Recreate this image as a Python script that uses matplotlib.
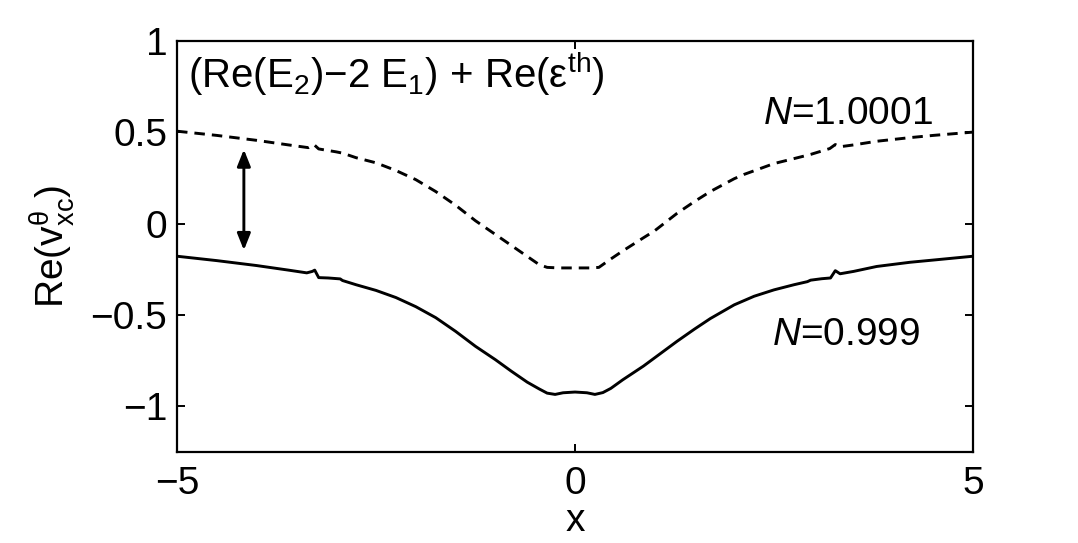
import matplotlib
matplotlib.use("Agg")
import matplotlib.pyplot as plt

plt.rcParams['font.family'] = ['Liberation Sans', 'DejaVu Sans']
plt.rcParams['mathtext.fontset'] = 'custom'
plt.rcParams['mathtext.rm'] = 'Liberation Sans'
plt.rcParams['mathtext.it'] = 'Liberation Sans:italic'
plt.rcParams['mathtext.bf'] = 'Liberation Sans:bold'

# Solid curve, N = 0.999
x_solid = [-5.0, -4.5, -4.0, -3.6, -3.37, -3.30, -3.27, -3.22, -3.1, -2.95, -2.92,
           -2.75, -2.5, -2.25, -2.0, -1.75, -1.5, -1.25, -1.0, -0.8, -0.6, -0.45,
           -0.35, -0.25, -0.15, 0.0, 0.15, 0.25, 0.35, 0.45, 0.6, 0.86, 1.0, 1.28,
           1.5, 1.7, 2.0, 2.25, 2.5, 2.75, 2.92, 2.96, 3.1, 3.21, 3.27, 3.33, 3.5,
           3.79, 4.21, 4.5, 5.0]
y_solid = [-0.179, -0.203, -0.230, -0.255, -0.270, -0.262, -0.255, -0.296, -0.298,
           -0.303, -0.312, -0.335, -0.366, -0.405, -0.455, -0.515, -0.590, -0.672,
           -0.745, -0.808, -0.868, -0.905, -0.928, -0.935, -0.926, -0.922, -0.926,
           -0.935, -0.925, -0.902, -0.855, -0.780, -0.735, -0.645, -0.578, -0.520,
           -0.445, -0.398, -0.363, -0.335, -0.318, -0.310, -0.302, -0.298, -0.258,
           -0.275, -0.262, -0.235, -0.212, -0.200, -0.179]

# Dashed curve, N = 1.0001
x_dash = [-5.0, -4.5, -4.0, -3.6, -3.35, -3.28, -3.22, -3.0, -2.92, -2.75, -2.5,
          -2.25, -2.0, -1.75, -1.5, -1.25, -1.0, -0.8, -0.6, -0.45, -0.35, -0.2,
          0.0, 0.2, 0.3, 0.44, 0.6, 0.86, 1.0, 1.28, 1.5, 1.7, 2.0, 2.12, 2.5,
          2.75, 2.96, 3.2, 3.27, 3.33, 3.5, 3.79, 4.21, 4.5, 5.0]
y_dash = [0.505, 0.482, 0.455, 0.430, 0.415, 0.432, 0.408, 0.392, 0.385, 0.360,
          0.332, 0.290, 0.240, 0.175, 0.100, 0.015, -0.060, -0.120, -0.180, -0.225,
          -0.240, -0.243, -0.243, -0.243, -0.240, -0.197, -0.150, -0.078, -0.040,
          0.055, 0.120, 0.175, 0.245, 0.268, 0.328, 0.355, 0.378, 0.410, 0.432,
          0.420, 0.430, 0.450, 0.470, 0.482, 0.500]

x_ticks = [-5, 0, 5]
y_ticks = [-1, -0.5, 0, 0.5, 1]
y_ticklabels = ['\u22121', '\u22120.5', '0', '0.5', '1']
x_ticklabels = ['\u22125', '0', '5']

fig = plt.figure(figsize=(10.78, 5.43), dpi=100)
ax = fig.add_axes([0.1642, 0.1676, 0.7384, 0.7574])

ax.plot(x_solid, y_solid, color='black', lw=2.1)
ax.plot(x_dash, y_dash, color='black', lw=2.1, dashes=(3.6, 2.4))

ax.annotate('', xy=(-4.16, -0.146), xytext=(-4.16, 0.405),
            arrowprops=dict(arrowstyle='<|-|>,head_length=1.0,head_width=0.4',
                            color='black', lw=2.1, shrinkA=0, shrinkB=0))

ax.text(-4.86, 0.744, r'(Re(E$_{2}$)$-$2 E$_{1}$) + Re(ε$^{\mathrm{th}}$)',
        fontsize=29, ha='left', va='baseline')
ax.text(2.36, 0.542, r'$N$=1.0001', fontsize=28, ha='left', va='baseline')
ax.text(2.47, -0.662, r'$N$=0.999', fontsize=28, ha='left', va='baseline')

ax.set_xlim(-5, 5)
ax.set_ylim(-1.25, 1)
ax.set_xticks(x_ticks)
ax.set_xticklabels(x_ticklabels)
ax.set_yticks(y_ticks)
ax.set_yticklabels(y_ticklabels)
ax.tick_params(axis='both', direction='in', length=6, width=1.4, labelsize=28,
               top=True, right=True)
ax.tick_params(axis='x', pad=10)
ax.tick_params(axis='y', pad=7)
for s in ax.spines.values():
    s.set_linewidth(1.6)

ax.set_xlabel('x', fontsize=28, labelpad=1)
ax.set_ylabel(r'Re(v$^{\mathrm{θ}}_{\mathrm{xc}}$)', fontsize=28, labelpad=10)

fig.savefig('out.png', dpi=100)
